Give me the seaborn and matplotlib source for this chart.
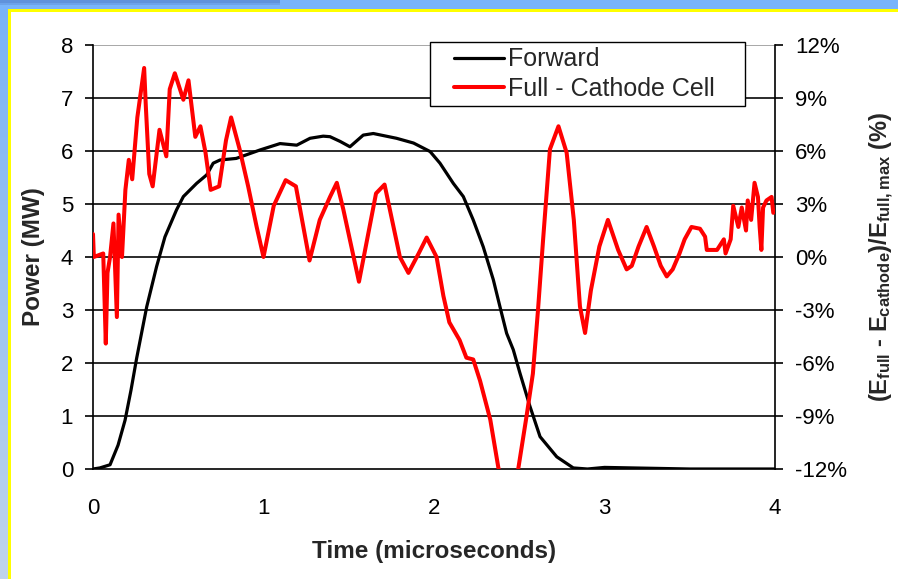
import numpy as np
import pandas as pd
import matplotlib
matplotlib.use("Agg")
import matplotlib.pyplot as plt
from matplotlib.patches import Rectangle
from matplotlib.lines import Line2D
from matplotlib.legend_handler import HandlerLine2D
from matplotlib.ticker import FixedLocator, FixedFormatter
import seaborn as sns

# ---- data -------------------------------------------------------------
forward_time = [0.0, 0.04, 0.10, 0.147, 0.188, 0.223, 0.256, 0.315, 0.373, 0.422,
                0.49, 0.53, 0.608, 0.667, 0.705, 0.745, 0.84, 0.98, 1.097, 1.195,
                1.273, 1.35, 1.39, 1.45, 1.507, 1.585, 1.644, 1.78, 1.88, 1.977,
                2.035, 2.113, 2.172, 2.23, 2.289, 2.348, 2.387, 2.426, 2.465, 2.504,
                2.563, 2.622, 2.72, 2.817, 2.9, 3.0, 3.5, 4.0]
forward_power = [0.0, 0.02, 0.08, 0.45, 0.92, 1.49, 2.09, 3.06, 3.82, 4.38,
                 4.89, 5.14, 5.39, 5.55, 5.77, 5.83, 5.86, 6.02, 6.14, 6.11,
                 6.24, 6.28, 6.27, 6.18, 6.08, 6.30, 6.33, 6.24, 6.15, 5.99,
                 5.77, 5.39, 5.14, 4.70, 4.19, 3.57, 3.06, 2.56, 2.25, 1.81,
                 1.18, 0.61, 0.23, 0.02, 0.0, 0.03, 0.0, 0.0]

cell_time = [0.0, 0.005, 0.06, 0.075, 0.085, 0.10, 0.12, 0.14, 0.15, 0.17,
             0.19, 0.21, 0.23, 0.26, 0.30, 0.31, 0.33, 0.35, 0.39, 0.43,
             0.45, 0.48, 0.53, 0.56, 0.60, 0.63, 0.66, 0.69, 0.74, 0.78,
             0.81, 0.86, 0.91, 0.96, 1.0, 1.06, 1.13, 1.19, 1.27, 1.33,
             1.39, 1.43, 1.468, 1.56, 1.66, 1.71, 1.80, 1.85, 1.91, 1.957,
             2.015, 2.055, 2.09, 2.15, 2.19, 2.23, 2.27, 2.33, 2.377, 2.43,
             2.494, 2.543, 2.58, 2.61, 2.64, 2.68, 2.73, 2.778, 2.82, 2.856,
             2.886, 2.92, 2.97, 3.02, 3.08, 3.13, 3.16, 3.20, 3.247, 3.29,
             3.33, 3.365, 3.40, 3.44, 3.47, 3.51, 3.56, 3.59, 3.60, 3.66,
             3.70, 3.71, 3.74, 3.755, 3.785, 3.805, 3.83, 3.84, 3.86, 3.88,
             3.90, 3.91, 3.92, 3.93, 3.95, 3.98, 3.99]
cell_diff_pct = [1.3, 0.0, 0.2, -4.9, -0.9, 0.0, 1.9, -3.4, 2.4, 0.0,
                 3.8, 5.5, 4.4, 7.9, 10.7, 8.5, 4.7, 4.0, 7.2, 5.7,
                 9.5, 10.4, 8.9, 10.0, 6.8, 7.4, 5.9, 3.8, 4.0, 6.6,
                 7.9, 6.1, 4.0, 1.7, 0.0, 2.9, 4.35, 4.0, -0.2, 2.1,
                 3.4, 4.2, 2.7, -1.4, 3.6, 4.1, 0.0, -0.9, 0.2, 1.1,
                 0.0, -2.2, -3.7, -4.7, -5.7, -5.8, -7.0, -9.2, -11.9, -14.5,
                 -12.0, -9.0, -6.6, -3.0, 1.0, 6.1, 7.4, 5.9, 2.1, -2.8,
                 -4.3, -1.9, 0.6, 2.1, 0.4, -0.7, -0.5, 0.6, 1.7, 0.6,
                 -0.5, -1.1, -0.7, 0.2, 1.0, 1.7, 1.6, 1.15, 0.4, 0.4,
                 1.0, 0.2, 1.0, 2.9, 1.7, 2.8, 1.5, 3.2, 2.1, 4.2,
                 3.4, 1.7, 0.4, 2.8, 3.2, 3.4, 2.5]

x_ticks = [0, 1, 2, 3, 4]
power_ticks = [0, 1, 2, 3, 4, 5, 6, 7, 8]
pct_ticks = [-12, -9, -6, -3, 0, 3, 6, 9, 12]
pct_tick_labels = ["-12%", "-9%", "-6%", "-3%", "0%", "3%", "6%", "9%", "12%"]

series_names = ["Forward", "Full - Cathode Cell"]

# ---- style ------------------------------------------------------------
sns.set_style("white")
plt.rcParams["font.family"] = ["Liberation Sans", "DejaVu Sans"]
plt.rcParams["mathtext.fontset"] = "custom"
plt.rcParams["mathtext.rm"] = "Liberation Sans:bold"
plt.rcParams["mathtext.it"] = "Liberation Sans:bold"
plt.rcParams["mathtext.bf"] = "Liberation Sans:bold"

W, H = 898, 579
fig = plt.figure(figsize=(W / 100, H / 100), dpi=100)
fig.patch.set_facecolor("white")

# slide frame: blue band on top and left, thin yellow border
bg = fig.add_axes([0, 0, 1, 1], zorder=-10)
bg.set_axis_off()
bg.set_xlim(0, W)
bg.set_ylim(H, 0)
grad = np.linspace(0, 1, 256).reshape(-1, 1)
cmap = matplotlib.colors.LinearSegmentedColormap.from_list("side", ["#78b2f8", "#c0d4ec"])
bg.imshow(grad, extent=(0, 9, H, 0), cmap=cmap, aspect="auto")
bg.add_patch(Rectangle((0, 0), W, 10, color="#78b4fb", lw=0))
bg.add_patch(Rectangle((0, 0), 280, 3, color="#5f92dc", lw=0))
bg.add_patch(Rectangle((0, 3), 280, 2, color="#6ca2ea", lw=0))
bg.add_patch(Rectangle((8, 9), W - 8, 2.5, color="#ffff00", lw=0))
bg.add_patch(Rectangle((8, 9), 2.5, H - 9, color="#ffff00", lw=0))

# ---- plot area --------------------------------------------------------
x0, x1, ytop, ybot = 93, 775, 45, 469
ax = fig.add_axes([x0 / W, 1 - ybot / H, (x1 - x0) / W, (ybot - ytop) / H])
ax.set_facecolor("none")

fwd = pd.DataFrame({"time": forward_time, "power": forward_power})
cell = pd.DataFrame({"time": cell_time, "pct": cell_diff_pct})

for y in power_ticks[1:-1]:
    ax.axhline(y, color="#1a1a1a", lw=1.3, zorder=0)
ax.axhline(8, color="#a0a0a0", lw=1.3, zorder=0)

sns.lineplot(data=fwd, x="time", y="power", ax=ax, color="black", lw=2.3,
             legend=False, zorder=3)
ax.set_xlim(0, 4)
ax.set_ylim(0, 8)
ax.xaxis.set_major_locator(FixedLocator(x_ticks))
ax.yaxis.set_major_locator(FixedLocator(power_ticks))
ax.set_xlabel("Time (microseconds)", fontsize=17.5, fontweight="bold", labelpad=15)
ax.set_ylabel("Power (MW)", fontsize=17.5, fontweight="bold", labelpad=11)

ax2 = ax.twinx()
sns.lineplot(data=cell, x="time", y="pct", ax=ax2, color="#ff0000", lw=2.9,
             legend=False, zorder=4)
ax2.set_ylim(-12, 12)
ax2.set_xlim(0, 4)
ax2.yaxis.set_major_locator(FixedLocator(pct_ticks))
ax2.yaxis.set_major_formatter(FixedFormatter(pct_tick_labels))
ax2.set_ylabel(r"($E_{full}$ - $E_{cathode}$)/$E_{full,max}$ (%)",
               fontsize=17, fontweight="bold", labelpad=15)

for a in (ax, ax2):
    for side in ("left", "right", "bottom"):
        a.spines[side].set_color("black")
        a.spines[side].set_linewidth(1.2)
    a.spines["top"].set_visible(False)
    a.tick_params(direction="out", length=5.8, width=1.2, color="black",
                  labelsize=16, labelcolor="black", pad=8.6)
ax.spines["right"].set_visible(False)
ax2.spines["left"].set_visible(False)
ax2.spines["bottom"].set_visible(False)
ax.tick_params(axis="x", pad=15)

handles = [Line2D([], [], color="black", lw=2.3),
           Line2D([], [], color="#ff0000", lw=2.9)]
lx0 = (430 - x0) / (x1 - x0)
lx1 = (745 - x0) / (x1 - x0)
ly1 = (ybot - 42) / (ybot - ytop)
ly0 = (ybot - 108) / (ybot - ytop)
leg = ax2.legend(handles, series_names, loc="upper left",
                 bbox_to_anchor=(lx0, ly0, lx1 - lx0, ly1 - ly0),
                 mode="expand",
                 handler_map={Line2D: HandlerLine2D(xpad=0.72)},
                 fontsize=18, frameon=True, fancybox=False, framealpha=1,
                 edgecolor="black", handlelength=2.72, handletextpad=0.2,
                 borderpad=0.22, labelspacing=0.2, borderaxespad=0)
leg.get_frame().set_linewidth(1.0)
leg.set_zorder(10)

fig.savefig("out.png", dpi=100)
